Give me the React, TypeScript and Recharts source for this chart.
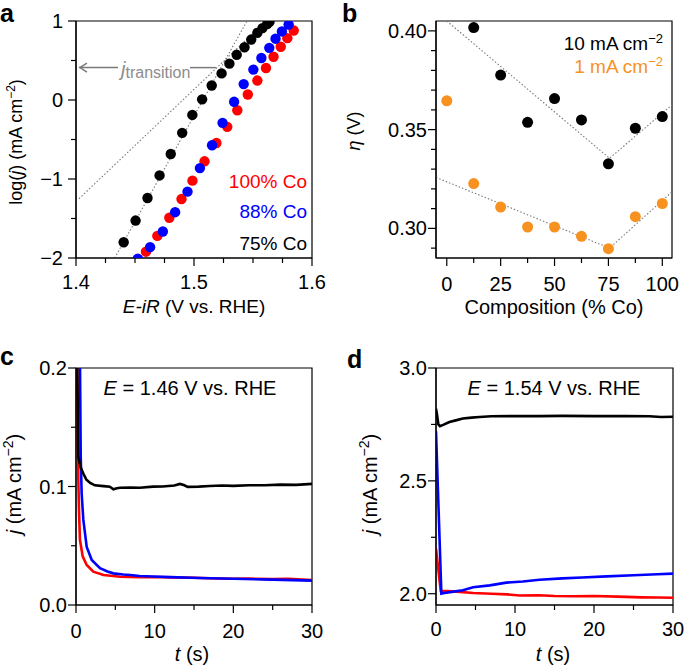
import React from 'react';
import { ComposedChart, Line, Scatter, XAxis, YAxis, ReferenceArea, ReferenceLine } from 'recharts';

const FONT = '"Liberation Sans", Arial, Helvetica, sans-serif';
const RED = '#ff0000';
const BLUE = '#0000ff';
const ORANGE = '#f7911f';
const GREY = '#7a7a7a';
const TICK_FONT = 20;

// ---- panel a: Tafel data, [E-iR (V), log j]
const aCo100: [number, number][] = [
  [1.4593, -1.92], [1.4689, -1.72], [1.4791, -1.49], [1.4894, -1.254], [1.4987, -1.021],
  [1.5089, -0.776], [1.519, -0.544], [1.5282, -0.34], [1.5367, -0.13], [1.5456, 0.07],
  [1.5537, 0.246], [1.561, 0.405], [1.5674, 0.547], [1.5735, 0.674], [1.5791, 0.783], [1.5845, 0.88],
];
const aCo88: [number, number][] = [
  [1.4524, -2.01], [1.4628, -1.863], [1.4736, -1.665], [1.484, -1.42], [1.4945, -1.16],
  [1.505, -0.862], [1.5153, -0.573], [1.5242, -0.289], [1.534, -0.023], [1.5421, 0.201],
  [1.5503, 0.385], [1.5571, 0.532], [1.5638, 0.66], [1.5691, 0.776], [1.5745, 0.868], [1.5802, 0.955],
];
const aCo75: [number, number][] = [
  [1.4404, -1.8], [1.4505, -1.526], [1.4606, -1.241], [1.4708, -0.955], [1.4803, -0.684],
  [1.49, -0.416], [1.4986, -0.189], [1.5069, 0.008], [1.515, 0.183], [1.5234, 0.337],
  [1.53, 0.46], [1.5362, 0.572], [1.5428, 0.668], [1.5485, 0.765], [1.5537, 0.85],
  [1.558, 0.91], [1.562, 0.96], [1.564, 0.99],
];
const aFitSteep: [number, number][] = [[1.4328, -2], [1.5449, 1]];
const aFitShallow: [number, number][] = [[1.4025, -1.25], [1.561, 1]];
const aArrowLeft: [number, number][] = [[1.4025, 0.41], [1.4356, 0.41]];
const aArrowRight: [number, number][] = [[1.4966, 0.41], [1.5186, 0.41]];
const aXTicks = [1.4, 1.425, 1.45, 1.475, 1.5, 1.525, 1.55, 1.575, 1.6];
const aXMajor = [1.4, 1.5, 1.6];
const aYTicks = [-2, -1.5, -1, -0.5, 0, 0.5, 1];
const aYMajor = [-2, -1, 0, 1];

// ---- panel b: overpotential vs composition
const bComp = [0, 12.5, 25, 37.5, 50, 62.5, 75, 87.5, 100];
const b10mA = [null, 0.4017, 0.3776, 0.3537, 0.3657, 0.3549, 0.3327, 0.3507, 0.3566];
const b1mA = [0.3646, 0.3227, 0.3108, 0.3007, 0.3007, 0.296, 0.2897, 0.3059, 0.3126];
const b10Fit: [number, number][] = [[0, 0.405], [75.5, 0.3355], [104.5, 0.3625]];
const b1Fit: [number, number][] = [[-5, 0.3258], [75.5, 0.29], [104.5, 0.3185]];
const bXTicks = [0, 12.5, 25, 37.5, 50, 62.5, 75, 87.5, 100];
const bXMajor = [0, 25, 50, 75, 100];
const bYTicks = [0.29, 0.3, 0.31, 0.32, 0.33, 0.34, 0.35, 0.36, 0.37, 0.38, 0.39, 0.4];
const bYMajor = [0.3, 0.35, 0.4];

// ---- panel c: chronoamperometry at 1.46 V, [t (s), j]
const cCo75: [number, number][] = [
  [0, 0.6], [0.15, 0.21], [0.3, 0.125], [0.6, 0.116], [0.93, 0.111], [1.3, 0.106], [1.8, 0.103],
  [2.4, 0.101], [3.5, 0.1003], [4.3, 0.0998], [4.75, 0.0977], [5.2, 0.0985], [5.6, 0.099],
  [7, 0.0992], [8.1, 0.099], [9.8, 0.0999], [11, 0.1], [12.5, 0.1008], [13.2, 0.1022],
  [13.7, 0.1012], [14.2, 0.0997], [15.6, 0.0999], [17, 0.1004], [18.5, 0.1008], [20, 0.1005],
  [22, 0.101], [24, 0.101], [26, 0.1016], [28, 0.1014], [30, 0.1022],
];
const cCo88: [number, number][] = [
  [0, 0.6], [0.5, 0.21], [0.6, 0.125], [0.72, 0.094], [0.93, 0.072], [1.36, 0.049], [2, 0.038],
  [3.05, 0.031], [4, 0.0283], [4.75, 0.0267], [6, 0.0258], [6.9, 0.0253], [8.1, 0.0245],
  [9.8, 0.024], [12, 0.0235], [15.7, 0.0228], [20, 0.0222], [25, 0.0214], [30, 0.0206],
];
const cCo100: [number, number][] = [
  [0, 0.6], [0.15, 0.21], [0.25, 0.12], [0.38, 0.08], [0.5, 0.055], [0.85, 0.041], [1.36, 0.0338],
  [2.2, 0.0281], [3.5, 0.0253], [5.6, 0.0239], [8.1, 0.0234], [10, 0.0236], [12, 0.0233],
  [15, 0.023], [18, 0.0224], [20, 0.0221], [22, 0.0223], [25, 0.0218], [27, 0.0221], [30, 0.0211],
];
const tTicks = [0, 5, 10, 15, 20, 25, 30];
const tMajor = [0, 10, 20, 30];
const cYTicks = [0, 0.05, 0.1, 0.15, 0.2];
const cYMajor = [0, 0.1, 0.2];

// ---- panel d: chronoamperometry at 1.54 V
const dCo75: [number, number][] = [
  [0, 2.82], [0.1, 2.8], [0.3, 2.75], [0.5, 2.742], [0.9, 2.748], [1.7, 2.761], [2.5, 2.768],
  [3.4, 2.776], [4.5, 2.78], [5.5, 2.783], [7, 2.786], [10, 2.787], [13, 2.787], [16, 2.788],
  [20, 2.787], [24, 2.787], [27, 2.786], [28.5, 2.783], [30, 2.784],
];
const dCo88: [number, number][] = [
  [0, 2.72], [0.68, 2.0], [1.06, 2.003], [2, 2.008], [3.4, 2.015], [4.7, 2.029], [6.8, 2.037],
  [8.9, 2.049], [11, 2.054], [13.1, 2.062], [16, 2.068], [18.5, 2.072], [21.6, 2.077],
  [25, 2.082], [28, 2.086], [30, 2.089],
];
const dCo100: [number, number][] = [
  [0, 2.2], [0.6, 2.012], [1.5, 2.012], [3, 2.008], [4.7, 2.003], [7, 2.0], [9, 1.997],
  [10.6, 1.992], [13, 1.993], [15, 1.99], [17.3, 1.989], [20, 1.99], [23, 1.987], [26, 1.984],
  [28, 1.983], [30, 1.982],
];
const dYTicks = [2, 2.25, 2.5, 2.75, 3];
const dYMajor = [2, 2.5, 3];

const pts = (arr: [number, number][]) => arr.map(([x, y]) => ({ x, y }));

const minus = (s: string) => s.replace('-', '\u2212');

function makeTick(side: 'bottom' | 'left', majors: number[], fmt: (v: number) => string, gap: number) {
  return (props: any) => {
    const { x, y, payload } = props;
    const v = payload.value;
    const major = majors.some((m) => Math.abs(m - v) < 1e-9);
    const len = major ? 8 : 5;
    if (side === 'bottom') {
      return (
        <g>
          <line x1={x} x2={x} y1={y} y2={y + len} stroke="#000" strokeWidth={1.2} />
          {major && (
            <text x={x} y={y + gap} textAnchor="middle" fontSize={TICK_FONT} fontFamily={FONT} fill="#000">
              {fmt(v)}
            </text>
          )}
        </g>
      );
    }
    return (
      <g>
        <line x1={x - len} x2={x} y1={y} y2={y} stroke="#000" strokeWidth={1.2} />
        {major && (
          <text x={x - gap} y={y + 7} textAnchor="end" fontSize={TICK_FONT} fontFamily={FONT} fill="#000">
            {fmt(v)}
          </text>
        )}
      </g>
    );
  };
}

const dot = (color: string, r: number) => (p: any) => <circle cx={p.cx} cy={p.cy} r={r} fill={color} />;

const ArrowShape = (p: any) => (
  <g>
    <line x1={p.x1} y1={p.y1} x2={p.x2} y2={p.y2} stroke={GREY} strokeWidth={1.5} />
    <path d={`M${p.x1 + 8},${p.y1 - 4.5} L${p.x1 + 1},${p.y1} L${p.x1 + 8},${p.y1 + 4.5}`} fill="none" stroke={GREY} strokeWidth={1.5} />
  </g>
);

const axisLine = { stroke: '#000', strokeWidth: 1.2 };

function PanelA() {
  return (
    <ComposedChart width={340} height={334} margin={{ top: 21, right: 28, bottom: 0, left: 0 }}>
      <XAxis type="number" dataKey="x" domain={[1.4, 1.6]} ticks={aXTicks} interval={0} allowDataOverflow
        tickSize={0} tickMargin={0} axisLine={axisLine} tickLine={false} height={76}
        tick={makeTick('bottom', aXMajor, (v) => v.toFixed(1), 31)} />
      <YAxis type="number" dataKey="y" domain={[-2, 1]} ticks={aYTicks} interval={0} allowDataOverflow
        tickSize={0} tickMargin={0} axisLine={axisLine} tickLine={false} width={76}
        tick={makeTick('left', aYMajor, (v) => minus(String(v)), 13)} />
      <ReferenceArea x1={1.4} x2={1.6} y1={-2} y2={1} fill="none" stroke="#000" strokeWidth={1.2} />
      <Line data={pts(aFitShallow)} dataKey="y" stroke={GREY} strokeWidth={1.1} strokeDasharray="1.5 2" dot={false} isAnimationActive={false} />
      <Line data={pts(aFitSteep)} dataKey="y" stroke={GREY} strokeWidth={1.1} strokeDasharray="1.5 2" dot={false} isAnimationActive={false} />
      <ReferenceLine segment={pts(aArrowLeft)} shape={ArrowShape} ifOverflow="visible" />
      <ReferenceLine segment={pts(aArrowRight)} stroke={GREY} strokeWidth={1.5} ifOverflow="visible" />
      <Scatter data={pts(aCo75)} dataKey="y" shape={dot('#000', 5.2)} isAnimationActive={false} />
      <Scatter data={pts(aCo100)} dataKey="y" shape={dot(RED, 5.2)} isAnimationActive={false} />
      <Scatter data={pts(aCo88)} dataKey="y" shape={dot(BLUE, 5.2)} isAnimationActive={false} />
    </ComposedChart>
  );
}

function PanelB() {
  const d10 = bComp.map((x, i) => ({ x, y: b10mA[i] })).filter((d) => d.y !== null);
  const d1 = bComp.map((x, i) => ({ x, y: b1mA[i] }));
  return (
    <ComposedChart width={345} height={334} margin={{ top: 21, right: 13, bottom: 0, left: 0 }}>
      <XAxis type="number" dataKey="x" domain={[-5, 104.5]} ticks={bXTicks} interval={0} allowDataOverflow
        tickSize={0} tickMargin={0} axisLine={axisLine} tickLine={false} height={76}
        tick={makeTick('bottom', bXMajor, (v) => String(v), 33)} />
      <YAxis type="number" dataKey="y" domain={[0.285, 0.405]} ticks={bYTicks} interval={0} allowDataOverflow
        tickSize={0} tickMargin={0} axisLine={axisLine} tickLine={false} width={96}
        tick={makeTick('left', bYMajor, (v) => v.toFixed(2), 9)} />
      <ReferenceArea x1={-5} x2={104.5} y1={0.285} y2={0.405} fill="none" stroke="#000" strokeWidth={1.2} />
      <Line data={pts(b10Fit)} dataKey="y" stroke={GREY} strokeWidth={1.1} strokeDasharray="1.5 2" dot={false} isAnimationActive={false} />
      <Line data={pts(b1Fit)} dataKey="y" stroke={GREY} strokeWidth={1.1} strokeDasharray="1.5 2" dot={false} isAnimationActive={false} />
      <Scatter data={d10} dataKey="y" shape={dot('#000', 5.5)} isAnimationActive={false} />
      <Scatter data={d1} dataKey="y" shape={dot(ORANGE, 5.5)} isAnimationActive={false} />
    </ComposedChart>
  );
}

function TimePanel(props: {
  width: number; yWidth: number; right: number; domain: [number, number]; yTicks: number[]; yMajor: number[];
  xGap: number; black: [number, number][]; red: [number, number][]; blue: [number, number][];
}) {
  const { width, yWidth, right, domain, yTicks, yMajor, xGap, black, red, blue } = props;
  return (
    <ComposedChart width={width} height={334} margin={{ top: 34, right, bottom: 0, left: 0 }}>
      <XAxis type="number" dataKey="x" domain={[0, 30]} ticks={tTicks} interval={0} allowDataOverflow
        tickSize={0} tickMargin={0} axisLine={axisLine} tickLine={false} height={63}
        tick={makeTick('bottom', tMajor, (v) => String(v), xGap)} />
      <YAxis type="number" dataKey="y" domain={domain} ticks={yTicks} interval={0} allowDataOverflow
        tickSize={0} tickMargin={0} axisLine={axisLine} tickLine={false} width={yWidth}
        tick={makeTick('left', yMajor, (v) => v.toFixed(1), 9)} />
      <ReferenceArea x1={0} x2={30} y1={domain[0]} y2={domain[1]} fill="none" stroke="#000" strokeWidth={1.2} />
      <Line data={pts(red)} dataKey="y" stroke={RED} strokeWidth={2.6} dot={false} isAnimationActive={false} />
      <Line data={pts(blue)} dataKey="y" stroke={BLUE} strokeWidth={2.6} dot={false} isAnimationActive={false} />
      <Line data={pts(black)} dataKey="y" stroke="#000" strokeWidth={2.6} dot={false} isAnimationActive={false} />
    </ComposedChart>
  );
}

// superscript, with optional text after it that drops back to the baseline
const sup = (s: string, size: number, after?: string) => (
  <>
    <tspan fontSize={size} dy={-size * 0.55}>{s}</tspan>
    {after && <tspan dy={size * 0.55}>{after}</tspan>}
  </>
);

function Overlay() {
  return (
    <svg width={685} height={668} style={{ position: 'absolute', left: 0, top: 0, pointerEvents: 'none' }} fontFamily={FONT} fill="#000">
      <text x={0} y={22} fontSize={25} fontWeight="bold">a</text>
      <text x={342} y={22} fontSize={25} fontWeight="bold">b</text>
      <text x={0} y={365} fontSize={25} fontWeight="bold">c</text>
      <text x={347} y={368} fontSize={25} fontWeight="bold">d</text>

      {/* panel a */}
      <text x={22} y={142} transform="rotate(-90 22 142)" textAnchor="middle" fontSize={18}>
        log(<tspan fontStyle="italic">j</tspan>) (mA cm{sup('\u22122', 12, ')')}
      </text>
      <text x={194} y={313} textAnchor="middle" fontSize={19}>
        <tspan fontStyle="italic">E-iR</tspan> (V vs. RHE)
      </text>
      <text x={121} y={76} fontSize={20} fill="#8c8c8c">
        <tspan fontStyle="italic">j</tspan><tspan fontSize={16} dy={2}>transition</tspan>
      </text>
      <text x={307} y={188} textAnchor="end" fontSize={19} fill={RED}>100% Co</text>
      <text x={307} y={218} textAnchor="end" fontSize={19} fill={BLUE}>88% Co</text>
      <text x={307} y={249.5} textAnchor="end" fontSize={19}>75% Co</text>

      {/* panel b */}
      <text x={360} y={131} transform="rotate(-90 360 131)" textAnchor="middle" fontSize={18}>
        <tspan fontStyle="italic">η</tspan> (V)
      </text>
      <text x={554} y={314} textAnchor="middle" fontSize={20}>Composition (% Co)</text>
      <text x={663} y={50} textAnchor="end" fontSize={19}>10 mA cm{sup('\u22122', 13)}</text>
      <text x={663} y={73} textAnchor="end" fontSize={19} fill={ORANGE}>1 mA cm{sup('\u22122', 13)}</text>

      {/* panel c */}
      <text x={21} y={484} transform="rotate(-90 21 484)" textAnchor="middle" fontSize={20}>
        <tspan fontStyle="italic">j</tspan> (mA cm{sup('\u22122', 14, ')')}
      </text>
      <text x={192} y={661} textAnchor="middle" fontSize={20}>
        <tspan fontStyle="italic">t</tspan> (s)
      </text>
      <text x={190} y={395} textAnchor="middle" fontSize={20}>
        <tspan fontStyle="italic">E</tspan> = 1.46 V vs. RHE
      </text>

      {/* panel d */}
      <text x={377} y={484} transform="rotate(-90 377 484)" textAnchor="middle" fontSize={20}>
        <tspan fontStyle="italic">j</tspan> (mA cm{sup('\u22122', 14, ')')}
      </text>
      <text x={553} y={661} textAnchor="middle" fontSize={20}>
        <tspan fontStyle="italic">t</tspan> (s)
      </text>
      <text x={554} y={395} textAnchor="middle" fontSize={20}>
        <tspan fontStyle="italic">E</tspan> = 1.54 V vs. RHE
      </text>
    </svg>
  );
}

export default function App() {
  return (
    <div style={{ position: 'absolute', left: 0, top: 0, width: 685, height: 668, background: '#fff', fontFamily: FONT }}>
      <div style={{ position: 'absolute', left: 0, top: 0 }}>
        <PanelA />
      </div>
      <div style={{ position: 'absolute', left: 340, top: 0 }}>
        <PanelB />
      </div>
      <div style={{ position: 'absolute', left: 0, top: 334 }}>
        <TimePanel width={340} yWidth={76} right={28} domain={[0, 0.2]} yTicks={cYTicks} yMajor={cYMajor}
          xGap={33} black={cCo75} red={cCo100} blue={cCo88} />
      </div>
      <div style={{ position: 'absolute', left: 340, top: 334 }}>
        <TimePanel width={345} yWidth={96} right={12} domain={[1.95, 3]} yTicks={dYTicks} yMajor={dYMajor}
          xGap={31} black={dCo75} red={dCo100} blue={dCo88} />
      </div>
      <Overlay />
    </div>
  );
}
